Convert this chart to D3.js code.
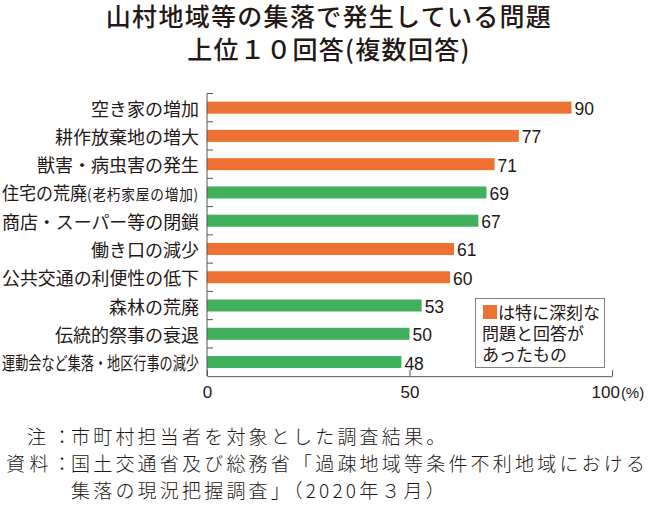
<!DOCTYPE html>
<html>
<head>
<meta charset="utf-8">
<script src="https://cdn.jsdelivr.net/npm/d3@7"></script>
<style>
  html, body { margin: 0; padding: 0; background: #fff; }
  svg { display: block; }
  .jp { font-family: "Noto Sans CJK JP", "Noto Sans", sans-serif; }
  .num { font-family: "Liberation Sans", Arial, sans-serif; }
</style>
</head>
<body>
<script>
// ---- data ----
const titleLines = ["山村地域等の集落で発生している問題", "上位１０回答(複数回答)"];
const categories = [
  "空き家の増加",
  "耕作放棄地の増大",
  "獣害・病虫害の発生",
  "住宅の荒廃(老朽家屋の増加)",
  "商店・スーパー等の閉鎖",
  "働き口の減少",
  "公共交通の利便性の低下",
  "森林の荒廃",
  "伝統的祭事の衰退",
  "運動会など集落・地区行事の減少"
];
const values = [90, 77, 71, 69, 67, 61, 60, 53, 50, 48];
const serious = [true, true, true, false, false, true, true, false, false, false];
const xTicks = [0, 50, 100];
const xUnit = "(%)";
const legendLines = ["は特に深刻な", "問題と回答が", "あったもの"];
const noteLabels = ["注", "資料", ""];
const noteLines = [
  "市町村担当者を対象とした調査結果。",
  "国土交通省及び総務省「過疎地域等条件不利地域における",
  "集落の現況把握調査」（2020年３月）"
];

// ---- drawing ----
const W = 660, H = 509;
const ink = "#231815";
const orange = "#EC7132";
const green = "#40B05C";
const axisCol = "#555";

const svg = d3.select("body").append("svg").attr("width", W).attr("height", H);

// title
svg.append("g").selectAll("text").data(titleLines).join("text")
  .attr("class", "jp")
  .attr("x", 329)
  .attr("y", (d, i) => 26 + i * 33)
  .attr("text-anchor", "middle")
  .attr("font-size", 25)
  .attr("font-weight", 500)
  .attr("letter-spacing", 1.3)
  .attr("fill", ink)
  .text(d => d);

const x = d3.scaleLinear().domain([0, 100]).range([207, 612]);
const y = d3.scaleBand().domain(categories).range([93.5, 376.2])
  .paddingInner(0.575).paddingOuter(0.2875);
const rows = categories.map((c, i) => ({ c, v: values[i], s: serious[i] }));

// bars
svg.append("g").selectAll("rect").data(rows).join("rect")
  .attr("x", x(0))
  .attr("y", d => y(d.c))
  .attr("width", d => x(d.v) - x(0))
  .attr("height", y.bandwidth())
  .attr("fill", d => d.s ? orange : green);

// left axis line + separator ticks
const y0 = y.range()[0], y1 = y.range()[1];
const gl = svg.append("g");
gl.append("line").attr("x1", x(0)).attr("x2", x(0)).attr("y1", y0).attr("y2", y1)
  .attr("stroke", axisCol).attr("stroke-width", 1);
const gap = (y.step() - y.bandwidth()) / 2;
gl.selectAll("line.sep").data(categories).join("line").attr("class", "sep")
  .attr("x1", x(0)).attr("x2", x(0) + 6)
  .attr("y1", d => y(d) - gap).attr("y2", d => y(d) - gap)
  .attr("stroke", axisCol).attr("stroke-width", 1);

// bottom axis
const gx = svg.append("g").attr("transform", `translate(0,${y1})`)
  .call(d3.axisBottom(x).tickValues(xTicks).tickSize(-6).tickSizeOuter(0).tickPadding(10));
gx.select(".domain").attr("stroke", axisCol);
gx.selectAll(".tick line").attr("stroke", axisCol);
gx.selectAll(".tick text").attr("class", "num").attr("font-size", 17).attr("fill", ink);
const last = gx.selectAll(".tick").filter(d => d === 100).select("text");
last.attr("text-anchor", "start").attr("x", -21);
last.append("tspan").attr("font-size", 15).attr("dx", 1).attr("fill", ink).text(xUnit);

// category labels
const lab = svg.append("g").selectAll("text").data(rows).join("text")
  .attr("class", "jp")
  .attr("x", 199)
  .attr("y", d => y(d.c) + y.bandwidth() / 2 + 8)
  .attr("text-anchor", "end")
  .attr("font-size", 18)
  .attr("fill", ink);
lab.each(function (d) {
  const t = d3.select(this);
  const k = d.c.indexOf("(");
  if (k > 0) {
    t.append("tspan").text(d.c.slice(0, k));
    t.append("tspan").attr("font-size", 14.5).attr("letter-spacing", 0.8).text(d.c.slice(k));
  } else {
    t.text(d.c);
  }
  const len = this.getComputedTextLength();
  if (len > 197) t.attr("textLength", 197).attr("lengthAdjust", "spacingAndGlyphs");
});

// value labels
svg.append("g").selectAll("text").data(rows).join("text")
  .attr("class", "num")
  .attr("x", d => x(d.v) + 3)
  .attr("y", d => y(d.c) + y.bandwidth() / 2 + 7.5)
  .attr("font-size", 17.5)
  .attr("fill", ink)
  .text(d => d.v);

// legend
const lg = svg.append("g");
lg.append("rect").attr("x", 475.5).attr("y", 298.5).attr("width", 129).attr("height", 69)
  .attr("fill", "#fff").attr("stroke", "#808080").attr("stroke-width", 1);
lg.append("rect").attr("x", 483).attr("y", 305).attr("width", 14).attr("height", 14).attr("fill", orange);
lg.selectAll("text").data(legendLines).join("text")
  .attr("class", "jp")
  .attr("x", (d, i) => i === 0 ? 498 : 482)
  .attr("y", (d, i) => 319 + i * 21)
  .attr("font-size", 17)
  .attr("fill", ink)
  .text(d => d);

// notes
const ng = svg.append("g");
noteLines.forEach((t, i) => {
  const yy = 444 + i * 27;
  if (noteLabels[i]) {
    ng.append("text").attr("class", "jp").attr("x", noteLabels[i].length > 1 ? 6 : 27)
      .attr("y", yy).attr("font-size", 19).attr("font-weight", 300).attr("letter-spacing", 4.5)
      .attr("fill", ink).text(noteLabels[i]);
    ng.append("text").attr("class", "jp").attr("x", 62).attr("y", yy).attr("text-anchor", "middle")
      .attr("font-size", 19).attr("font-weight", 300).attr("fill", ink).text("：");
  }
  ng.append("text").attr("class", "jp").attr("x", 71).attr("y", yy)
    .attr("font-size", 19).attr("font-weight", 300).attr("letter-spacing", 3.2)
    .attr("fill", ink).text(t);
});
</script>
</body>
</html>
